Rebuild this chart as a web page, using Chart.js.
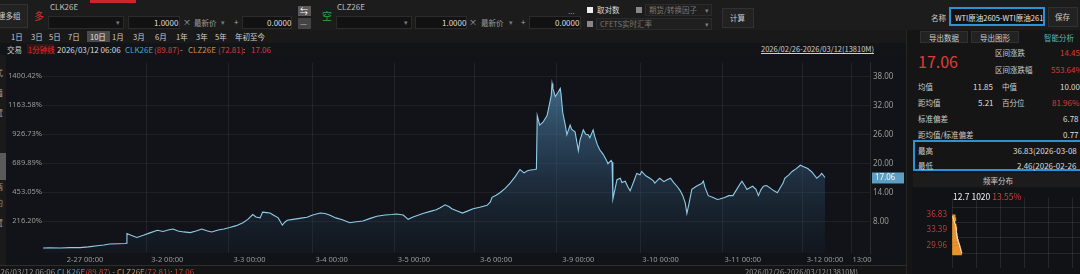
<!DOCTYPE html>
<html>
<head>
<meta charset="utf-8">
<script src="https://cdn.jsdelivr.net/npm/chart.js@4.4.1/dist/chart.umd.min.js"></script>
<style>
body{margin:0;width:1080px;height:274px;overflow:hidden;background:#141414;position:relative;
  font-family:"Noto Sans CJK SC","Noto Sans",sans-serif;font-size:8px;color:#bdbdbd}
.a{position:absolute;white-space:nowrap;line-height:1}
.c{font-size:7.5px}
.r{position:absolute;}
.box{position:absolute;background:#121212;border:1px solid #2b2b2b;box-sizing:border-box}
.btn{position:absolute;background:#222;border:1px solid #313131;box-sizing:border-box}
.red{color:#d63c3c}
.dd{color:#7a7a7a;font-size:7px}
</style>
</head>
<body>
<!-- top bar -->
<div class="r" style="left:0;top:0;width:1080px;height:30px;background:#1c1c1c"></div>
<div class="r" style="left:90px;top:0;width:46px;height:3px;background:#c9282a"></div>
<div class="btn" style="left:0;top:4px;width:28px;height:24px;border-left:none"></div>
<div class="a c" style="left:-2px;top:12px;color:#cfcfcf">建多组</div>
<div class="a" style="left:34px;top:11px;font-size:10px;color:#cf3530">多</div>
<div class="a" style="left:50px;top:3px">CLK26E</div>
<div class="box" style="left:48px;top:16px;width:76px;height:13px"></div>
<div class="a dd" style="left:116px;top:19px">▾</div>
<div class="box" style="left:128px;top:16px;width:52px;height:13px"></div>
<div class="a" style="left:154px;top:19px;color:#ddd">1.0000</div>
<div class="a" style="left:183px;top:18px;color:#aaa">×</div>
<div class="a c" style="left:194px;top:19px;color:#9a9a9a">最新价</div>
<div class="a dd" style="left:221px;top:19px">▾</div>
<div class="a" style="left:234px;top:18px;color:#aaa">+</div>
<div class="box" style="left:242px;top:16px;width:50px;height:13px"></div>
<div class="a" style="left:267px;top:19px;color:#ddd">0.0000</div>
<div class="r" style="left:298px;top:6px;width:13px;height:10px;background:#5a5a5a"></div>
<div class="a" style="left:300px;top:7px;color:#fff;font-size:8px">⇆</div>
<div class="r" style="left:298px;top:18px;width:13px;height:11px;background:#444"></div>
<div class="a" style="left:300px;top:20px;color:#bbb;font-size:8px">—</div>
<div class="a" style="left:322px;top:11px;font-size:10px;color:#39a048">空</div>
<div class="a" style="left:337px;top:3px">CLZ26E</div>
<div class="box" style="left:336px;top:16px;width:76px;height:13px"></div>
<div class="a dd" style="left:404px;top:19px">▾</div>
<div class="box" style="left:415px;top:16px;width:52px;height:13px"></div>
<div class="a" style="left:442px;top:19px;color:#ddd">1.0000</div>
<div class="a" style="left:469px;top:18px;color:#aaa">×</div>
<div class="a c" style="left:481px;top:19px;color:#9a9a9a">最新价</div>
<div class="a dd" style="left:509px;top:19px">▾</div>
<div class="a" style="left:521px;top:18px;color:#aaa">+</div>
<div class="box" style="left:529px;top:16px;width:52px;height:13px"></div>
<div class="a" style="left:555px;top:19px;color:#ddd">0.0000</div>
<div class="a" style="left:568px;top:7px;color:#999">...</div>
<div class="r" style="left:587px;top:7px;width:6px;height:6px;background:#eee"></div>
<div class="a c" style="left:597px;top:6px;color:#ddd">取对数</div>
<div class="r" style="left:636px;top:7px;width:6px;height:6px;background:#888"></div>
<div class="box" style="left:645px;top:4px;width:67px;height:12px;background:#1f1f1f"></div>
<div class="a c" style="left:649px;top:6px;color:#777">期货/转换因子</div>
<div class="a dd" style="left:705px;top:7px">▾</div>
<div class="r" style="left:587px;top:21px;width:6px;height:6px;background:#888"></div>
<div class="box" style="left:596px;top:18px;width:116px;height:12px;background:#1f1f1f"></div>
<div class="a c" style="left:600px;top:20px;color:#777">CFETS实时汇率</div>
<div class="a dd" style="left:705px;top:21px">▾</div>
<div class="btn" style="left:722px;top:8px;width:32px;height:20px"></div>
<div class="a c" style="left:730px;top:14px;color:#ccc">计算</div>
<div class="a c" style="left:931px;top:14px;color:#ccc">名称</div>
<div class="r" style="left:949px;top:7px;width:96px;height:19px;border:2px solid #2a93d5;box-sizing:border-box;background:#111;overflow:hidden">
  <div class="a c" style="left:4px;top:5px;color:#e6e6e6">WTI原油2605-WTI原油2612</div>
</div>
<div class="btn" style="left:1048px;top:7px;width:30px;height:20px"></div>
<div class="a c" style="left:1055px;top:13px;color:#ccc">保存</div>

<!-- period row -->
<div class="r" style="left:0;top:30px;width:906px;height:13px;background:#191919"></div>
<div class="r" style="left:87px;top:31px;width:23px;height:11px;background:#4a4a4a"></div>
<div class="a c" style="left:11px;top:33px;color:#cfcfcf">1日</div>
<div class="a c" style="left:31px;top:33px;color:#cfcfcf">3日</div>
<div class="a c" style="left:49px;top:33px;color:#cfcfcf">5日</div>
<div class="a c" style="left:68px;top:33px;color:#cfcfcf">7日</div>
<div class="a c" style="left:90px;top:33px;color:#e6e6e6">10日</div>
<div class="a c" style="left:112px;top:33px;color:#cfcfcf">1月</div>
<div class="a c" style="left:133px;top:33px;color:#cfcfcf">3月</div>
<div class="a c" style="left:155px;top:33px;color:#cfcfcf">6月</div>
<div class="a c" style="left:176px;top:33px;color:#cfcfcf">1年</div>
<div class="a c" style="left:196px;top:33px;color:#cfcfcf">3年</div>
<div class="a c" style="left:215px;top:33px;color:#cfcfcf">5年</div>
<div class="a c" style="left:235px;top:33px;color:#cfcfcf">年初至今</div>

<!-- chart header -->
<div class="r" style="left:0;top:43px;width:906px;height:12px;background:#131417"></div>
<div class="a c" style="left:7px;top:46px;color:#ccc">交易</div>
<div class="r" style="left:27px;top:44px;width:27px;height:10px;background:#3a1414"></div>
<div class="a c" style="left:28px;top:46px;color:#d9302c">1分钟线</div>
<div class="a" style="left:57px;top:46px;color:#d8d8d8">2026/03/12 06:06</div>
<div class="a" style="left:125px;top:46px;color:#4b9fcf">CLK26E</div>
<div class="a red" style="left:154px;top:46px">(89.87)</div>
<div class="a" style="left:180px;top:46px;color:#bbb">-</div>
<div class="a" style="left:188px;top:46px;color:#d08850">CLZ26E</div>
<div class="a red" style="left:218px;top:46px">(72.81)</div>
<div class="a" style="left:243px;top:46px;color:#bbb">:</div>
<div class="a red" style="left:251px;top:46px">17.06</div>
<div class="a" style="left:761px;top:45px;color:#cfcfcf;font-size:7.5px;text-decoration:underline">2026/02/26-2026/03/12(13810M)</div>

<!-- main chart -->
<div class="r" style="left:0;top:55px;width:906px;height:211px;background:#111318"></div>
<div class="r" style="left:0;top:55px;width:6px;height:211px;background:#1a1a1a"></div>
<div class="r" style="left:0;top:153px;width:6px;height:27px;background:#5a5a5a"></div>
<div class="a" style="left:-5px;top:69px;color:#999">式</div>
<div class="a" style="left:-5px;top:89px;color:#999">籍</div>
<div class="a" style="left:-5px;top:109px;color:#999">置</div>
<div class="a" style="left:-5px;top:183px;color:#999">两</div>
<div class="a" style="left:-5px;top:199px;color:#999">约</div>
<div class="a" style="left:-5px;top:219px;color:#999">置</div>
<canvas id="spread" width="908" height="212" style="position:absolute;left:0;top:55px"></canvas>
<div class="r" style="left:0;top:265px;width:906px;height:1px;background:#2e2e2e"></div>
<div class="a" style="left:-4px;top:268px;color:#999">026/03/12 06:06 <span style="color:#4b9fcf">CLK26E</span><span class="red">(89.87)</span> - <span style="color:#d08850">CLZ26E</span><span class="red">(72.81)</span>: <span class="red">17.06</span></div>
<div class="a" style="left:745px;top:268px;color:#999;font-size:7.5px">2026/02/26-2026/03/12(13810M)</div>
<div class="a" style="left:909px;top:264px;color:#888;font-size:8px">»</div>

<!-- right panel -->
<div class="r" style="left:906px;top:30px;width:174px;height:244px;background:#151515;border-left:1px solid #262626"></div>
<div class="btn" style="left:920px;top:31px;width:48px;height:12px"></div>
<div class="a c" style="left:929px;top:34px;color:#ccc">导出数据</div>
<div class="btn" style="left:971px;top:31px;width:48px;height:12px"></div>
<div class="a c" style="left:980px;top:34px;color:#ccc">导出图形</div>
<div class="a c" style="left:1044px;top:34px;color:#55b4c8">智能分析</div>
<div class="a" style="left:918px;top:53px;font-size:16px;color:#e03a3a">17.06</div>
<div class="a c" style="left:995px;top:49px;color:#ccc">区间涨跌</div>
<div class="a red" style="left:1060px;top:49px">14.45</div>
<div class="a c" style="left:995px;top:66px;color:#ccc">区间涨跌幅</div>
<div class="a red" style="left:1051px;top:66px">553.64%</div>
<div class="a c" style="left:918px;top:83px;color:#ccc">均值</div>
<div class="a" style="left:973px;top:83px;color:#ddd">11.85</div>
<div class="a c" style="left:1002px;top:83px;color:#ccc">中值</div>
<div class="a" style="left:1060px;top:83px;color:#ddd">10.00</div>
<div class="a c" style="left:918px;top:99px;color:#ccc">距均值</div>
<div class="a" style="left:978px;top:99px;color:#ddd">5.21</div>
<div class="a c" style="left:1002px;top:99px;color:#ccc">百分位</div>
<div class="a red" style="left:1052px;top:99px">81.96%</div>
<div class="a c" style="left:918px;top:115px;color:#ccc">标准偏差</div>
<div class="a" style="left:1063px;top:115px;color:#ddd">6.78</div>
<div class="a c" style="left:918px;top:131px;color:#ccc">距均值/标准偏差</div>
<div class="a" style="left:1063px;top:131px;color:#ddd">0.77</div>
<div class="r" style="left:913px;top:140px;width:180px;height:31px;border:2px solid #2a93d5;box-sizing:border-box"></div>
<div class="a c" style="left:918px;top:147px;color:#ccc">最高</div>
<div class="a" style="left:1013px;top:147px;color:#ddd">36.83(2026-03-08</div>
<div class="a c" style="left:918px;top:162px;color:#ccc">最低</div>
<div class="a" style="left:1017px;top:162px;color:#ddd">2.46(2026-02-26</div>
<div class="r" style="left:913px;top:173px;width:167px;height:14px;background:#1c1c1c"></div>
<div class="a c" style="left:983px;top:177px;color:#ccc">频率分布</div>
<div class="r" style="left:912px;top:188px;width:168px;height:86px;background:#101216"></div>
<canvas id="hist" width="200" height="90" style="position:absolute;left:912px;top:188px"></canvas>
<div class="a" style="left:953px;top:192px;color:#eee;font-size:8.5px">12.7 1020 <span class="red">13.55%</span></div>

<script>
// spread WTI 2605 - WTI 2612, 1 minute, x in days from 2-27 00:00
const spreadTime = [
  -0.51, -0.43, -0.30, -0.18, -0.06, 0.04, 0.15, 0.23, 0.30, 0.40, 0.49, 0.50,
  0.51, 0.56, 0.63, 0.71, 0.79, 0.88, 0.95, 1.01, 1.07, 1.13, 1.20, 1.28,
  1.35, 1.42, 1.48, 1.54, 1.62, 1.69, 1.76, 1.84, 1.92, 1.98, 2.04, 2.08,
  2.13, 2.16, 2.21, 2.25, 2.30, 2.35, 2.40, 2.43, 2.46, 2.53, 2.61, 2.70,
  2.77, 2.86, 2.92, 2.98, 3.05, 3.13, 3.22, 3.30, 3.38, 3.47, 3.55, 3.65,
  3.73, 3.79, 3.87, 3.93, 3.99, 4.05, 4.11, 4.20, 4.27, 4.32, 4.38, 4.43,
  4.46, 4.52, 4.59, 4.65, 4.72, 4.80, 4.89, 4.93, 4.95, 5.00, 5.05, 5.11,
  5.17, 5.23, 5.29, 5.34, 5.38, 5.42, 5.47, 5.49, 5.50, 5.53, 5.57, 5.62,
  5.64, 5.67, 5.68, 5.69, 5.72, 5.75, 5.78, 5.79, 5.81, 5.84, 5.86, 5.90,
  5.92, 5.96, 6.00, 6.02, 6.06, 6.09, 6.12, 6.14, 6.18, 6.20, 6.23, 6.26,
  6.30, 6.34, 6.36, 6.40, 6.41, 6.42, 6.45, 6.47, 6.51, 6.53, 6.57, 6.60,
  6.63, 6.68, 6.71, 6.75, 6.77, 6.82, 6.87, 6.91, 6.93, 6.97, 6.99, 7.04,
  7.08, 7.12, 7.16, 7.20, 7.24, 7.27, 7.30, 7.32, 7.35, 7.38, 7.44, 7.50,
  7.52, 7.54, 7.58, 7.64, 7.69, 7.72, 7.78, 7.83, 7.88, 7.93, 7.97, 7.99,
  8.03, 8.05, 8.09, 8.12, 8.16, 8.19, 8.22, 8.25, 8.29, 8.33, 8.38, 8.42,
  8.45, 8.49, 8.51, 8.56, 8.60, 8.65, 8.70, 8.74, 8.79, 8.84, 8.90, 8.94,
  8.96, 9.00
];
const spreadValue = [
  2.46, 2.52, 2.48, 2.55, 2.55, 2.70, 2.95, 3.10, 3.30, 3.35, 3.40, 3.45,
  5.45, 5.10, 4.65, 5.10, 5.60, 6.15, 5.90, 6.20, 6.40, 6.00, 5.80, 5.65,
  6.00, 6.40, 6.05, 5.80, 6.20, 6.40, 6.70, 7.10, 7.70, 8.40, 9.40, 8.90,
  8.70, 9.90, 9.80, 9.70, 9.20, 8.70, 7.20, 7.80, 8.20, 8.40, 8.60, 8.85,
  9.30, 9.70, 9.60, 9.25, 8.70, 8.30, 7.70, 7.90, 8.05, 8.60, 9.05, 9.30,
  9.40, 9.50, 9.30, 8.40, 8.90, 9.25, 9.60, 10.05, 10.40, 10.80, 11.40, 11.00,
  10.60, 10.20, 9.70, 10.10, 10.60, 10.90, 11.30, 12.00, 12.95, 13.40, 13.95, 14.80,
  15.90, 17.20, 18.70, 18.00, 18.45, 18.60, 18.70, 18.80, 29.85, 27.90, 28.50, 29.85,
  31.50, 34.00, 36.50, 35.50, 33.80, 34.60, 35.50, 34.20, 30.50, 28.00, 25.90, 27.90,
  27.00, 26.50, 22.60, 24.80, 26.90, 26.00, 25.90, 25.30, 26.90, 25.50, 23.90, 22.80,
  21.90, 20.70, 19.90, 20.60, 20.20, 12.60, 15.00, 16.60, 16.90, 16.00, 16.30, 15.20,
  14.30, 16.50, 17.90, 17.60, 18.30, 17.40, 16.90, 16.40, 15.90, 16.60, 16.90, 16.20,
  16.60, 16.90, 16.00, 15.25, 14.30, 13.30, 11.80, 9.60, 12.00, 14.60, 15.30, 15.80,
  16.30, 15.00, 13.30, 12.90, 12.50, 12.60, 12.90, 13.30, 13.30, 14.70, 15.80, 16.30,
  15.20, 14.60, 15.00, 15.25, 14.60, 13.30, 14.50, 15.25, 15.40, 14.90, 14.30, 13.90,
  14.80, 15.90, 16.90, 17.60, 18.30, 18.90, 19.60, 19.30, 18.90, 18.20, 16.90, 17.50,
  17.90, 17.06
];

const xTickPos = [0, 1, 2, 3, 4, 5, 6, 7, 8, 9, 9.45];
const xTickText = ['2-27 00:00', '3-2 00:00', '3-3 00:00', '3-4 00:00', '3-5 00:00',
  '3-6 00:00', '3-9 00:00', '3-10 00:00', '3-11 00:00', '3-12 00:00', '13:00'];
const sessionLines = [0.75, 1.75, 2.77, 3.76, 4.74, 5.74, 6.75, 7.75, 8.73, 9.32];
const priceTicks = [8, 14, 20, 26, 32, 38];
const pctTicks = ['216.20%', '453.05%', '689.89%', '926.73%', '1163.58%', '1400.42%'];

// frequency distribution (top part visible)
const histPrice = [36.48, 35.80, 35.11, 34.42, 33.73, 33.05, 32.36, 31.67, 30.98, 30.30, 29.61, 28.92, 28.23];
const histCount = [20, 24, 18, 26, 30, 28, 32, 35, 40, 46, 52, 56, 60];
const histCurve = [4, 10, 16, 22, 26, 28, 30, 33, 38, 44, 50, 56, 62];
const histTicks = [29.96, 33.39, 36.83];

const axisFont = {family: '"Noto Sans", sans-serif', size: 8};
const smallFont = {family: '"Noto Sans", sans-serif', size: 7.5};

const lastMarker = {
  id: 'lastMarker',
  afterDraw(chart) {
    const last = spreadValue[spreadValue.length - 1];
    const y = chart.scales.y.getPixelForValue(last);
    const x = chart.chartArea.right + 2;
    const c = chart.ctx;
    c.save();
    c.fillStyle = '#5d9fc4';
    c.fillRect(x, y - 5, 32, 11);
    c.fillStyle = '#eef7fb';
    c.font = '8px "Noto Sans", sans-serif';
    c.textBaseline = 'middle';
    c.fillText(last.toFixed(2), x + 3, y + 0.5);
    c.restore();
  }
};

new Chart(document.getElementById('spread'), {
  type: 'line',
  data: {
    datasets: [{
      data: spreadTime.map((t, i) => ({x: t, y: spreadValue[i]})),
      borderColor: '#8fcde8',
      borderWidth: 1.1,
      pointRadius: 0,
      tension: 0,
      fill: 'start',
      backgroundColor: ctx => {
        const a = ctx.chart.chartArea;
        if (!a) return 'transparent';
        const g = ctx.chart.ctx.createLinearGradient(0, a.top, 0, a.bottom);
        g.addColorStop(0, 'rgba(90,145,185,0.8)');
        g.addColorStop(0.5, 'rgba(55,95,130,0.5)');
        g.addColorStop(1, 'rgba(30,50,70,0.15)');
        return g;
      },
    }],
  },
  options: {
    responsive: false,
    animation: false,
    layout: {padding: 0},
    plugins: {legend: {display: false}, tooltip: {enabled: false}},
    scales: {
      x: {
        type: 'linear', min: -0.523, max: 9.547,
        grid: {display: false, drawTicks: false},
        border: {display: false},
        ticks: {color: '#9a9a9a', font: smallFont, maxRotation: 0, autoSkip: false, padding: 2,
          callback: (v, i) => xTickText[i]},
        afterBuildTicks: ax => { ax.ticks = xTickPos.map(v => ({value: v})); },
        afterFit: ax => { ax.height = 14; },
      },
      xg: {
        type: 'linear', position: 'bottom', min: -0.523, max: 9.547,
        grid: {color: 'rgba(255,255,255,0.07)', drawTicks: false},
        border: {display: false},
        ticks: {display: false},
        afterBuildTicks: ax => { ax.ticks = sessionLines.map(v => ({value: v})); },
        afterFit: ax => { ax.height = 0; },
      },
      y: {
        type: 'linear', position: 'right', min: 1.44, max: 40.78,
        grid: {color: 'rgba(255,255,255,0.06)', drawTicks: false},
        border: {display: true, color: '#2c2c2c'},
        ticks: {color: '#9a9a9a', font: axisFont, padding: 3, callback: v => v.toFixed(2)},
        afterBuildTicks: ax => { ax.ticks = priceTicks.map(v => ({value: v})); },
        afterFit: ax => { ax.width = 38; },
      },
      yp: {
        type: 'linear', position: 'left', min: 1.44, max: 40.78,
        grid: {display: false, drawTicks: false},
        border: {display: false},
        ticks: {color: '#9a9a9a', font: smallFont, padding: 0, callback: (v, i) => pctTicks[i]},
        afterBuildTicks: ax => { ax.ticks = priceTicks.map(v => ({value: v})); },
        afterFit: ax => { ax.width = 42; },
      },
    },
  },
  plugins: [lastMarker],
});

new Chart(document.getElementById('hist'), {
  type: 'bar',
  data: {
    datasets: [{
      type: 'line',
      indexAxis: 'y',
      data: histPrice.map((p, i) => ({x: histCurve[i], y: p})),
      borderColor: '#eeeeee',
      borderWidth: 1,
      pointRadius: 0,
      tension: 0.4,
    }, {
      data: histPrice.map((p, i) => ({x: histCount[i], y: p})),
      backgroundColor: '#e8922c',
      barPercentage: 1,
      categoryPercentage: 1,
    }],
  },
  options: {
    indexAxis: 'y',
    responsive: false,
    animation: false,
    layout: {padding: 0},
    plugins: {legend: {display: false}, tooltip: {enabled: false}},
    scales: {
      x: {
        type: 'linear', min: 0, max: 1000,
        grid: {color: 'rgba(255,255,255,0.09)', drawTicks: false},
        border: {display: false},
        ticks: {display: false, stepSize: 150},
        afterFit: ax => { ax.height = 0; },
      },
      y: {
        type: 'linear', min: 27.52, max: 37.99,
        grid: {color: 'rgba(255,255,255,0.09)', drawTicks: false},
        border: {display: false},
        ticks: {color: '#c0393b', font: {family: '"Noto Sans", sans-serif', size: 8}, padding: 5,
          callback: v => v.toFixed(2)},
        afterBuildTicks: ax => { ax.ticks = histTicks.map(v => ({value: v})); },
        afterFit: ax => { ax.width = 40; },
      },
    },
  },
});
</script>
</body>
</html>
